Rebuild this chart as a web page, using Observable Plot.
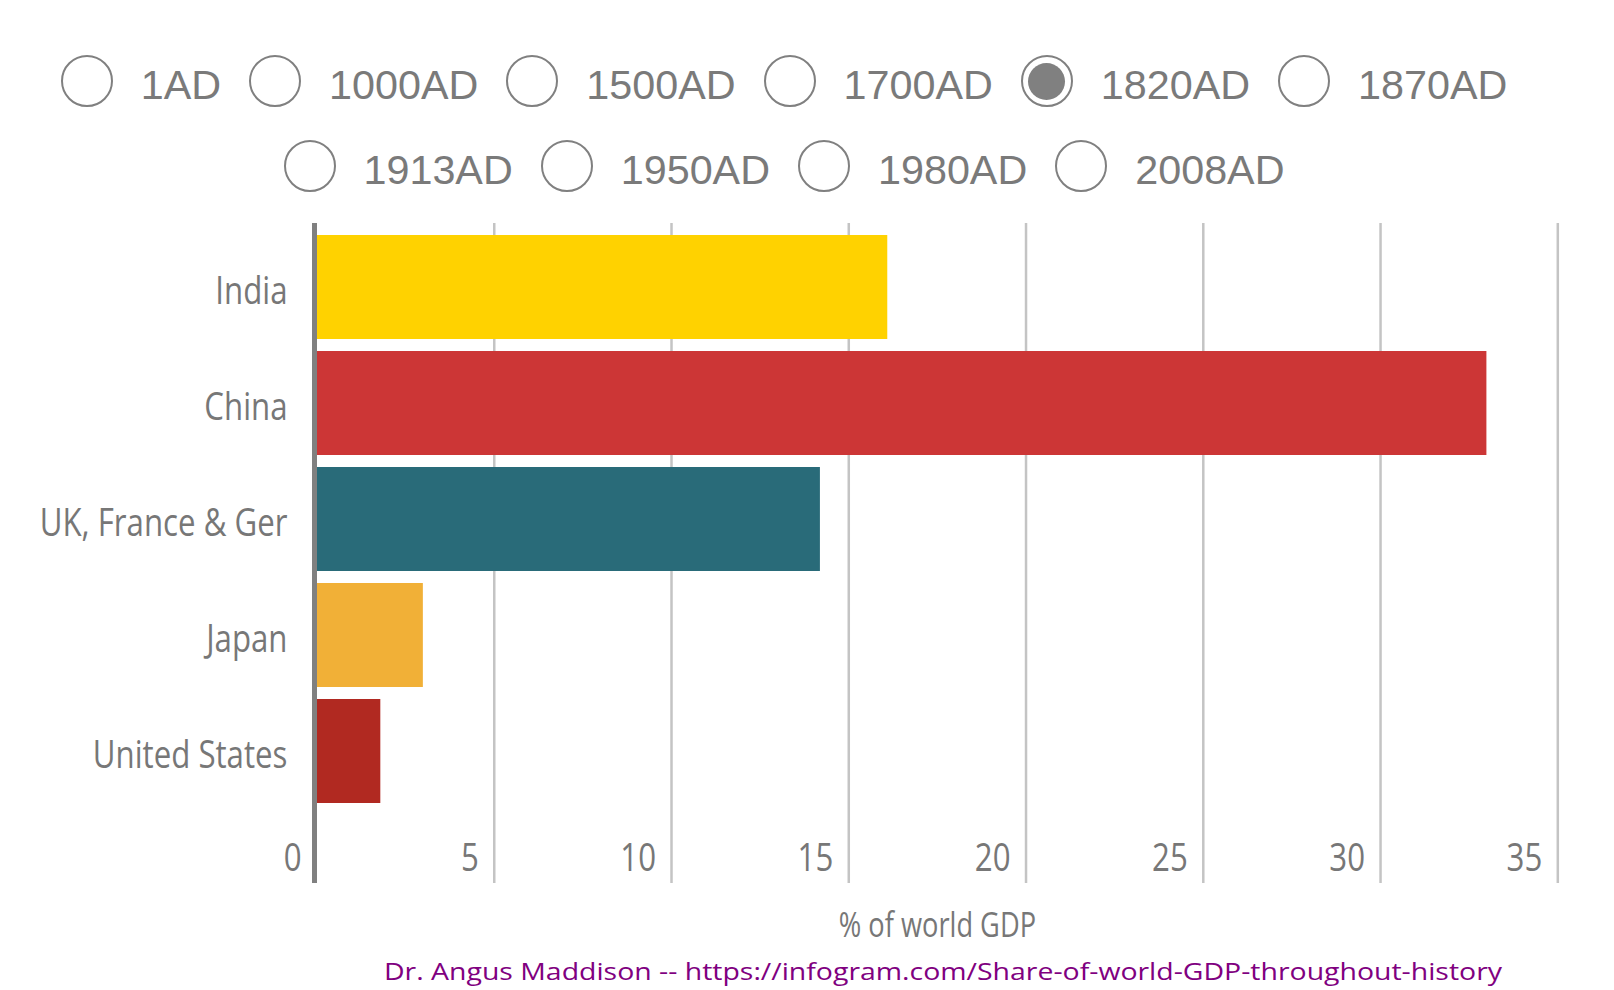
<!DOCTYPE html>
<html>
<head>
<meta charset="utf-8">
<script src="https://cdn.jsdelivr.net/npm/d3@7"></script>
<script src="https://cdn.jsdelivr.net/npm/@observablehq/plot@0.6"></script>
<style>
html,body{margin:0;padding:0;background:#fff;width:1614px;height:990px;overflow:hidden;position:relative}
.row{position:absolute;left:0;width:1568px;height:60px;display:flex;justify-content:center;align-items:center;font-family:"Liberation Sans",Arial,sans-serif;font-size:41.3px;color:#7a7a7a}
.item{display:flex;align-items:center;margin:0 14px}
.radio{box-sizing:border-box;width:52px;height:52px;border:2.5px solid #808080;border-radius:50%;position:relative;margin-right:28px;flex:none}
.radio.on::after{content:"";position:absolute;left:50%;top:50%;width:37px;height:37px;margin:-18.5px 0 0 -18.5px;border-radius:50%;background:#808080}
.lbl{position:relative;top:4px;white-space:nowrap}
#chart{position:absolute;left:0;top:200px}
#caption{position:absolute;left:384px;top:954px;white-space:nowrap;font-family:"Open Sans",sans-serif;font-size:24px;color:#800080;transform-origin:0 50%}
</style>
</head>
<body>
<div class="row" id="row1" style="top:51px"></div>
<div class="row" id="row2" style="top:136px"></div>
<div id="chart"></div>
<div id="caption"></div>
<script>
// ---- data ----
const countries = ["India", "China", "UK, France & Ger", "Japan", "United States"];
const share1820 = [16.1, 33.0, 14.2, 3.0, 1.8];
const barColors = ["#FFD200", "#CC3636", "#296B79", "#F1B037", "#B12921"];
const xTicks = [0, 5, 10, 15, 20, 25, 30, 35];
const years = ["1AD", "1000AD", "1500AD", "1700AD", "1820AD", "1870AD", "1913AD", "1950AD", "1980AD", "2008AD"];
const selectedYear = "1820AD";
const xLabel = "% of world GDP";
const captionText = "Dr. Angus Maddison -- https://infogram.com/Share-of-world-GDP-throughout-history";

// ---- radio selector (legend-like control above the chart) ----
years.forEach((y, i) => {
  const row = document.getElementById(i < 6 ? "row1" : "row2");
  const item = document.createElement("div");
  item.className = "item";
  const r = document.createElement("div");
  r.className = "radio" + (y === selectedYear ? " on" : "");
  const l = document.createElement("span");
  l.className = "lbl";
  l.textContent = y;
  item.append(r, l);
  row.append(item);
});

// ---- chart ----
const data = countries.map((c, i) => ({country: c, value: share1820[i]}));
const labelColor = "#777777";
const chart = Plot.plot({
  width: 1614,
  height: 760,
  marginLeft: 316.5,
  marginRight: 56.7,
  marginTop: 23,
  marginBottom: 77,
  x: {domain: [0, 35], axis: null},
  y: {domain: countries, range: [23, 616], padding: 0.1, axis: null},
  color: {domain: countries, range: barColors},
  style: {background: "transparent", fontFamily: "'Open Sans', sans-serif", overflow: "visible"},
  marks: [
    Plot.ruleX(xTicks.filter(t => t > 0), {stroke: "#c4c4c4", strokeWidth: 2.5}),
    Plot.barX(data, {x: "value", y: "country", fill: "country"}),
    Plot.ruleX([0], {stroke: "#808080", strokeWidth: 5, dx: -2.5}),
    Plot.text(xTicks, {x: d => d, frameAnchor: "bottom", dy: -25, dx: -15.5, textAnchor: "end", lineAnchor: "middle", fontSize: 39, fill: labelColor, text: d => String(d)}),
    Plot.text(countries, {y: d => d, frameAnchor: "left", dx: -29.5, dy: 4, textAnchor: "end", lineAnchor: "middle", fontSize: 39, fill: labelColor, text: d => d}),
    Plot.text([xLabel], {frameAnchor: "bottom", dy: 43, lineAnchor: "middle", fontSize: 34, fill: labelColor, text: d => d})
  ]
});
document.getElementById("chart").append(chart);

// condense the label font horizontally (narrow typeface look)
const texts = [...chart.querySelectorAll("text")];
const uk = texts.find(t => t.textContent === "UK, France & Ger");
const s = uk ? 248 / uk.getBBox().width : 0.8;
texts.forEach(t => {
  const tr = t.getAttribute("transform") || "";
  t.setAttribute("transform", tr + ` scale(${s},1)`);
});

// ---- caption ----
const cap = document.getElementById("caption");
cap.textContent = captionText;
const cw = cap.getBoundingClientRect().width;
cap.style.transform = `scaleX(${1118 / cw})`;
</script>
</body>
</html>
